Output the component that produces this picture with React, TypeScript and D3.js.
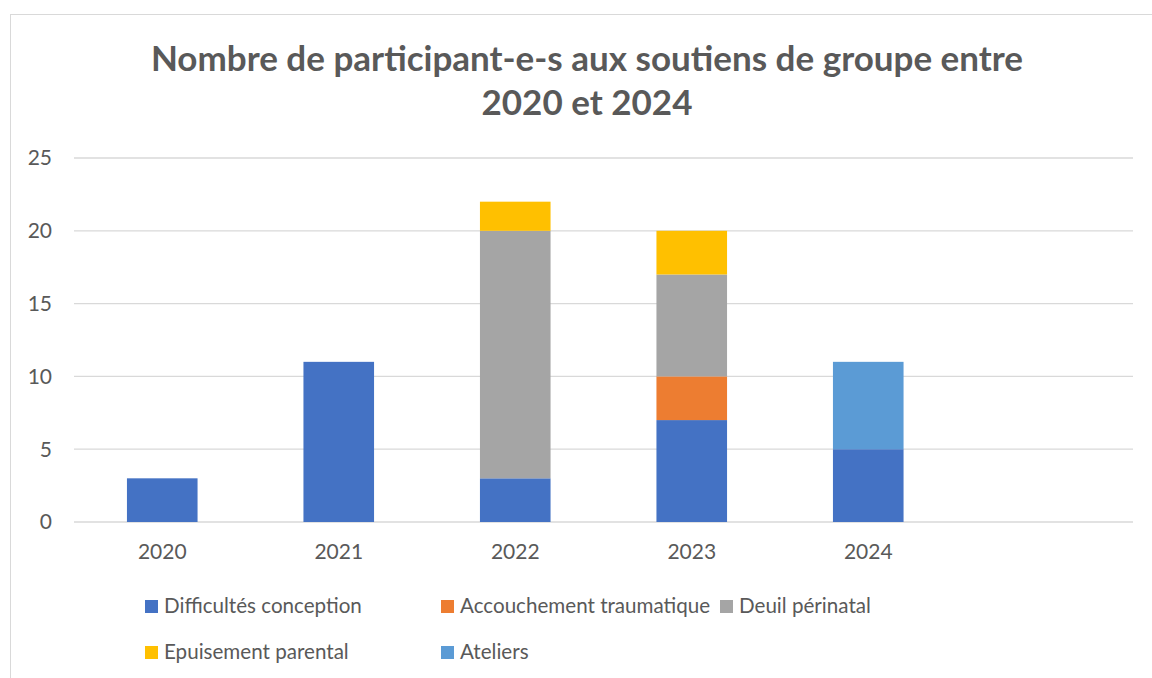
import React, { useRef, useEffect } from "react";
import * as d3 from "d3";

// Données
const years = ["2020", "2021", "2022", "2023", "2024", ""];
const difficultes = [3, 11, 3, 7, 5, 0];
const accouchement = [0, 0, 0, 3, 0, 0];
const deuil = [0, 0, 17, 7, 0, 0];
const epuisement = [0, 0, 2, 3, 0, 0];
const ateliers = [0, 0, 0, 0, 6, 0];
const seriesNames = [
  "Difficultés conception",
  "Accouchement traumatique",
  "Deuil périnatal",
  "Epuisement parental",
  "Ateliers",
];
const yTicks = [0, 5, 10, 15, 20, 25];

const colors = ["#4472C4", "#ED7D31", "#A5A5A5", "#FFC000", "#5B9BD5"];
const FONT = "Lato, 'Open Sans', sans-serif";

const App = () => {
  const chartRef = useRef<HTMLDivElement>(null);

  useEffect(() => {
    drawChart();
  }, []);

  const drawChart = () => {
    const svgWidth = 1152;
    const svgHeight = 678;
    const plot = { left: 74, right: 1133, top: 158, bottom: 522 };

    d3.select(chartRef.current).selectAll("svg").remove();

    const svg = d3
      .select(chartRef.current)
      .append("svg")
      .attr("width", svgWidth)
      .attr("height", svgHeight)
      .style("display", "block")
      .style("font-family", FONT);

    svg.append("rect").attr("width", svgWidth).attr("height", svgHeight).attr("fill", "#fff");

    // cadre du graphique
    svg
      .append("rect")
      .attr("x", 10.5)
      .attr("y", 14.5)
      .attr("width", 1160)
      .attr("height", 700)
      .attr("fill", "none")
      .attr("stroke", "#D9D9D9")
      .attr("stroke-width", 1);

    // titre
    const title = svg
      .append("text")
      .attr("text-anchor", "middle")
      .attr("fill", "#595959")
      .attr("font-weight", "bold")
      .attr("font-size", 35);
    title.append("tspan").attr("x", 587).attr("y", 71).text("Nombre de participant-e-s aux soutiens de groupe entre");
    title.append("tspan").attr("x", 587).attr("y", 115).text("2020 et 2024");

    const x = d3.scaleBand().domain(years.map((d, i) => String(i))).range([plot.left, plot.right]).paddingInner(0.6).paddingOuter(0.3);
    const y = d3.scaleLinear().domain([0, 25]).range([plot.bottom, plot.top]);

    // grille
    svg
      .append("g")
      .selectAll("line")
      .data(yTicks)
      .enter()
      .append("line")
      .attr("x1", plot.left)
      .attr("x2", plot.right)
      .attr("y1", (d) => y(d))
      .attr("y2", (d) => y(d))
      .attr("stroke", "#D9D9D9")
      .attr("stroke-width", 1.3);

    // étiquettes axe Y
    svg
      .append("g")
      .selectAll("text")
      .data(yTicks)
      .enter()
      .append("text")
      .attr("x", 52)
      .attr("y", (d) => y(d))
      .attr("dy", "0.35em")
      .attr("text-anchor", "end")
      .attr("fill", "#595959")
      .attr("font-size", 21)
      .text((d) => d);

    // étiquettes axe X
    svg
      .append("g")
      .selectAll("text")
      .data(years)
      .enter()
      .append("text")
      .attr("x", (d, i) => (x(String(i)) as number) + x.bandwidth() / 2)
      .attr("y", 552)
      .attr("dy", "0.35em")
      .attr("text-anchor", "middle")
      .attr("fill", "#595959")
      .attr("font-size", 21)
      .text((d) => d);

    // barres empilées
    const table = years.map((yr, i) => ({
      key: String(i),
      s0: difficultes[i],
      s1: accouchement[i],
      s2: deuil[i],
      s3: epuisement[i],
      s4: ateliers[i],
    }));
    const stack = d3.stack<any>().keys(["s0", "s1", "s2", "s3", "s4"]);
    const stacked = stack(table);

    svg
      .append("g")
      .selectAll("g")
      .data(stacked)
      .enter()
      .append("g")
      .attr("fill", (d, i) => colors[i])
      .selectAll("rect")
      .data((d) => d.filter((p) => p[1] - p[0] > 0))
      .enter()
      .append("rect")
      .attr("x", (d) => x(d.data.key) as number)
      .attr("width", x.bandwidth())
      .attr("y", (d) => y(d[1]))
      .attr("height", (d) => y(d[0]) - y(d[1]));

    // légende
    const legendCols = [145, 441, 720];
    const legendRows = [606, 652];
    const legend = svg
      .append("g")
      .selectAll("g")
      .data(seriesNames)
      .enter()
      .append("g")
      .attr("transform", (d, i) => `translate(${legendCols[i % 3]},${legendRows[Math.floor(i / 3)]})`);
    legend
      .append("rect")
      .attr("x", 0)
      .attr("y", -6)
      .attr("width", 13)
      .attr("height", 13)
      .attr("fill", (d, i) => colors[i]);
    legend
      .append("text")
      .attr("x", 19)
      .attr("y", 0)
      .attr("dy", "0.35em")
      .attr("fill", "#595959")
      .attr("font-size", 20.6)
      .text((d) => d);
  };

  return <div ref={chartRef} style={{ position: "absolute", left: 0, top: 0 }}></div>;
};

export default App;
